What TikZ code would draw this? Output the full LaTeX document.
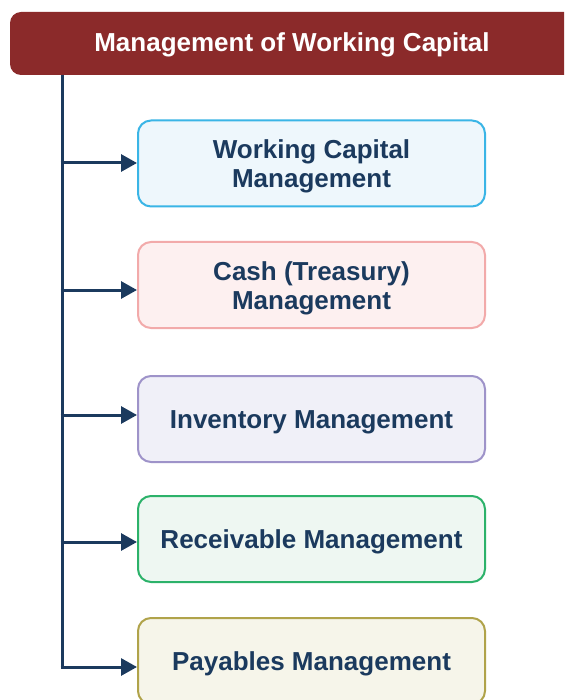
\documentclass[tikz,border=0pt]{standalone}
\usepackage{fontspec}
\setmainfont{Liberation Sans}
\usetikzlibrary{arrows.meta}
\definecolor{navy}{HTML}{1B3A5E}
\definecolor{titlered}{HTML}{8B2A2A}
\definecolor{bdA}{HTML}{3AB5E6}\definecolor{fillA}{HTML}{EEF7FC}
\definecolor{bdB}{HTML}{F2AAAA}\definecolor{fillB}{HTML}{FDF0F0}
\definecolor{bdC}{HTML}{9E93C9}\definecolor{fillC}{HTML}{F0F0F8}
\definecolor{bdD}{HTML}{2CB26A}\definecolor{fillD}{HTML}{EEF7F2}
\definecolor{bdE}{HTML}{B0A34A}\definecolor{fillE}{HTML}{F6F5EA}
% box labels sit a little below the geometric centre
\newcommand{\boxlabel}[1]{\raisebox{-4pt}[\height][\depth]{\begin{tabular}{@{}c@{}}#1\end{tabular}}}
\begin{document}
\begin{tikzpicture}[x=1pt,y=-1pt,
  title/.style={draw=none, fill=titlered, rounded corners=11pt,
    minimum width=570pt, minimum height=63pt, inner sep=0pt},
  bigfont/.style={font=\bfseries\fontsize{26}{29}\selectfont},
  item/.style={rounded corners=13pt, line width=2pt, text=navy, bigfont,
    minimum width=347pt, minimum height=86pt, inner sep=0pt},
  wire/.style={draw=navy, line width=3pt},
  arr/.style={wire, -{Triangle[length=16pt,width=17pt]}}
]
\useasboundingbox (0,0) rectangle (564,700);
\fill[white] (0,0) rectangle (564,700);
\begin{scope}
\clip (0,0) rectangle (564,700);
% heading bar
\node[title] (head) at (295,43.5) {};
\node[text=white, bigfont] (headtext) at (292,45) {Management of Working Capital};

% the five management areas
\node[item, draw=bdA, fill=fillA] (b1) at (311.5,163.5) {\boxlabel{Working Capital\\Management}};
\node[item, draw=bdB, fill=fillB] (b2) at (311.5,285) {\boxlabel{Cash (Treasury)\\Management}};
\node[item, draw=bdC, fill=fillC] (b3) at (311.5,419) {\boxlabel{Inventory Management}};
\node[item, draw=bdD, fill=fillD] (b4) at (311.5,539) {\boxlabel{Receivable Management}};
\node[item, draw=bdE, fill=fillE] (b5) at (311.5,661) {\boxlabel{Payables Management}};

% spine and branches
\coordinate (top) at (62,75);
\coordinate (s1) at (62,163);
\coordinate (s2) at (62,290);
\coordinate (s3) at (62,415);
\coordinate (s4) at (62,542);
\coordinate (s5) at (62,667);
\draw[wire] (top) -- (s5);
\foreach \i in {1,...,5}{
  \draw[arr] ([xshift=-1.5pt]s\i) -- (s\i -| b\i.west);
}
\end{scope}
\end{tikzpicture}
\end{document}
